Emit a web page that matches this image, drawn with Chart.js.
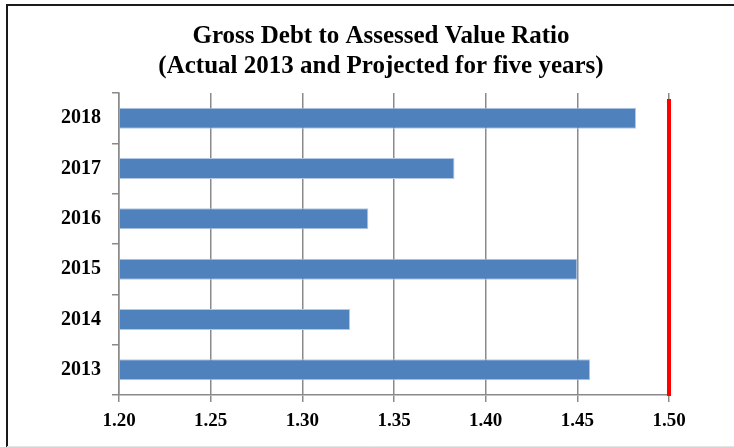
<!DOCTYPE html>
<html>
<head>
<meta charset="utf-8">
<script src="https://cdn.jsdelivr.net/npm/chart.js@4/dist/chart.umd.min.js"></script>
<style>
  html, body { margin: 0; padding: 0; background: #fff; }
  #wrap { width: 734px; height: 447px; }
</style>
</head>
<body>
<div id="wrap"><canvas id="ratioChart"></canvas></div>
<script>
// ratio per year, top row first
const years = ['2018', '2017', '2016', '2015', '2014', '2013'];
const ratios = [1.482, 1.383, 1.336, 1.450, 1.326, 1.457];

// value axis range and the limit marker
const axisMin = 1.20;
const axisMax = 1.50;
const axisStep = 0.05;
const ratioLimit = 1.50;

const titleLines = ['Gross Debt to Assessed Value Ratio', '(Actual 2013 and Projected for five years)'];

const serif = "'Liberation Serif', 'DejaVu Serif', serif";
const axisGray = '#8a8a8a';

// outer frame: dark top and left edges, faint bottom edge
const framePlugin = {
  id: 'frame',
  beforeDraw(chart) {
    const ctx = chart.ctx;
    ctx.save();
    ctx.fillStyle = '#fff';
    ctx.fillRect(0, 0, chart.width, chart.height);
    ctx.strokeStyle = '#1a1a1a';
    ctx.lineWidth = 2;
    ctx.beginPath();
    ctx.moveTo(chart.width, 5);
    ctx.lineTo(7, 5);
    ctx.lineTo(7, chart.height);
    ctx.stroke();
    ctx.strokeStyle = '#e4e4e4';
    ctx.lineWidth = 1;
    ctx.beginPath();
    ctx.moveTo(7, chart.height - 0.5);
    ctx.lineTo(chart.width, chart.height - 0.5);
    ctx.stroke();
    ctx.restore();
  }
};

// two-line heading, sitting a little left of the plot centre
const headingPlugin = {
  id: 'heading',
  afterDraw(chart) {
    const area = chart.chartArea;
    const cx = (area.left + area.right) / 2 - 13;
    const ctx = chart.ctx;
    ctx.save();
    ctx.fillStyle = '#000';
    ctx.font = `bold 25px ${serif}`;
    ctx.textAlign = 'center';
    ctx.textBaseline = 'middle';
    titleLines.forEach((line, i) => ctx.fillText(line, cx, 37 + i * 30));
    ctx.restore();
  }
};

// red vertical marker at the ratio limit
const limitPlugin = {
  id: 'limitLine',
  afterDatasetsDraw(chart) {
    const x = chart.scales.x.getPixelForValue(ratioLimit);
    const area = chart.chartArea;
    const ctx = chart.ctx;
    ctx.save();
    ctx.strokeStyle = '#ff0000';
    ctx.lineWidth = 4;
    ctx.beginPath();
    ctx.moveTo(x, area.top + 6);
    ctx.lineTo(x, area.bottom + 1);
    ctx.stroke();
    ctx.restore();
  }
};

new Chart(document.getElementById('ratioChart'), {
  type: 'bar',
  data: {
    labels: years,
    datasets: [{
      label: 'Ratio',
      data: ratios,
      base: axisMin,
      backgroundColor: '#4f81bd',
      borderColor: '#b3c8e4',
      borderWidth: 1,
      borderSkipped: 'left',
      categoryPercentage: 0.8,
      barPercentage: 0.52
    }]
  },
  options: {
    indexAxis: 'y',
    responsive: true,
    maintainAspectRatio: false,
    animation: false,
    layout: {
      padding: { top: 93, left: 28, right: 65, bottom: 0 }
    },
    plugins: {
      legend: { display: false },
      tooltip: { enabled: false },
      title: { display: false }
    },
    scales: {
      x: {
        type: 'linear',
        min: axisMin,
        max: axisMax,
        ticks: {
          stepSize: axisStep,
          color: '#000',
          padding: 8,
          font: { family: serif, size: 19, weight: 'bold' },
          callback: (v) => Number(v).toFixed(2)
        },
        grid: {
          color: axisGray,
          lineWidth: 1.5,
          tickLength: 7
        },
        border: { color: axisGray, width: 1.5 },
        afterFit: (scale) => { scale.height = 52; }
      },
      y: {
        ticks: {
          color: '#000',
          padding: 11,
          font: { family: serif, size: 20, weight: 'bold' }
        },
        grid: {
          offset: true,
          drawOnChartArea: false,
          color: axisGray,
          lineWidth: 1.5,
          tickLength: 7
        },
        border: { color: axisGray, width: 1.5 },
        afterFit: (scale) => { scale.width = 91; }
      }
    }
  },
  plugins: [framePlugin, headingPlugin, limitPlugin]
});
</script>
</body>
</html>
